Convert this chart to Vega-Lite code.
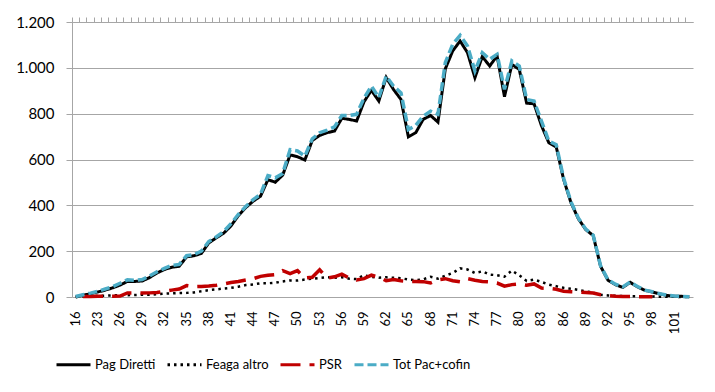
{
  "$schema": "https://vega.github.io/schema/vega-lite/v6.json",
  "autosize": {"type": "none"},
  "padding": {"left": 72, "top": 22, "right": 22, "bottom": 95},
  "width": 621,
  "height": 275,
  "background": "white",
  "config": {"view": {"stroke": null}},
  "data": {"values": [
    {"age":16,"Pag Diretti":0,"Feaga altro":0,"Tot Pac+cofin":2},
    {"age":19,"Pag Diretti":8,"Feaga altro":2,"PSR":2,"Tot Pac+cofin":10},
    {"age":21,"Pag Diretti":14,"Feaga altro":3,"PSR":2,"Tot Pac+cofin":17},
    {"age":23,"Pag Diretti":22,"Feaga altro":5,"PSR":3,"Tot Pac+cofin":25},
    {"age":24,"Pag Diretti":30,"Feaga altro":6,"PSR":3,"Tot Pac+cofin":35},
    {"age":25,"Pag Diretti":40,"Feaga altro":7,"PSR":3,"Tot Pac+cofin":45},
    {"age":26,"Pag Diretti":52,"Feaga altro":8,"PSR":4,"Tot Pac+cofin":60},
    {"age":27,"Pag Diretti":68,"Feaga altro":8,"PSR":18,"Tot Pac+cofin":75},
    {"age":28,"Pag Diretti":68,"Feaga altro":9,"PSR":18,"Tot Pac+cofin":73},
    {"age":29,"Pag Diretti":70,"Feaga altro":10,"PSR":17,"Tot Pac+cofin":76},
    {"age":30,"Pag Diretti":85,"Feaga altro":10,"PSR":18,"Tot Pac+cofin":92},
    {"age":31,"Pag Diretti":105,"Feaga altro":12,"PSR":20,"Tot Pac+cofin":110},
    {"age":32,"Pag Diretti":120,"Feaga altro":15,"PSR":25,"Tot Pac+cofin":125},
    {"age":33,"Pag Diretti":130,"Feaga altro":16,"PSR":30,"Tot Pac+cofin":138},
    {"age":34,"Pag Diretti":134,"Feaga altro":17,"PSR":35,"Tot Pac+cofin":142},
    {"age":35,"Pag Diretti":175,"Feaga altro":18,"PSR":50,"Tot Pac+cofin":180},
    {"age":36,"Pag Diretti":180,"Feaga altro":20,"PSR":45,"Tot Pac+cofin":185},
    {"age":37,"Pag Diretti":190,"Feaga altro":25,"PSR":46,"Tot Pac+cofin":200},
    {"age":38,"Pag Diretti":236,"Feaga altro":30,"PSR":48,"Tot Pac+cofin":242},
    {"age":39,"Pag Diretti":258,"Feaga altro":33,"PSR":51,"Tot Pac+cofin":262},
    {"age":40,"Pag Diretti":278,"Feaga altro":37,"PSR":57,"Tot Pac+cofin":285},
    {"age":41,"Pag Diretti":310,"Feaga altro":40,"PSR":63,"Tot Pac+cofin":320},
    {"age":42,"Pag Diretti":355,"Feaga altro":45,"PSR":68,"Tot Pac+cofin":360},
    {"age":43,"Pag Diretti":390,"Feaga altro":52,"PSR":74,"Tot Pac+cofin":395},
    {"age":44,"Pag Diretti":418,"Feaga altro":55,"PSR":80,"Tot Pac+cofin":425},
    {"age":45,"Pag Diretti":440,"Feaga altro":60,"PSR":90,"Tot Pac+cofin":448},
    {"age":46,"Pag Diretti":512,"Feaga altro":60,"PSR":95,"Tot Pac+cofin":530},
    {"age":47,"Pag Diretti":501,"Feaga altro":62,"PSR":98,"Tot Pac+cofin":520},
    {"age":48,"Pag Diretti":532,"Feaga altro":68,"PSR":115,"Tot Pac+cofin":539},
    {"age":49,"Pag Diretti":620,"Feaga altro":72,"PSR":102,"Tot Pac+cofin":643},
    {"age":50,"Pag Diretti":612,"Feaga altro":72,"PSR":115,"Tot Pac+cofin":637},
    {"age":51,"Pag Diretti":598,"Feaga altro":76,"PSR":83,"Tot Pac+cofin":615},
    {"age":52,"Pag Diretti":683,"Feaga altro":80,"PSR":86,"Tot Pac+cofin":690},
    {"age":53,"Pag Diretti":705,"Feaga altro":83,"PSR":119,"Tot Pac+cofin":717},
    {"age":54,"Pag Diretti":717,"Feaga altro":86,"PSR":83,"Tot Pac+cofin":728},
    {"age":55,"Pag Diretti":724,"Feaga altro":84,"PSR":88,"Tot Pac+cofin":742},
    {"age":56,"Pag Diretti":780,"Feaga altro":86,"PSR":100,"Tot Pac+cofin":792},
    {"age":57,"Pag Diretti":775,"Feaga altro":80,"PSR":83,"Tot Pac+cofin":792},
    {"age":58,"Pag Diretti":768,"Feaga altro":78,"PSR":74,"Tot Pac+cofin":797},
    {"age":59,"Pag Diretti":852,"Feaga altro":95,"PSR":80,"Tot Pac+cofin":868},
    {"age":60,"Pag Diretti":902,"Feaga altro":88,"PSR":95,"Tot Pac+cofin":920},
    {"age":61,"Pag Diretti":855,"Feaga altro":84,"PSR":86,"Tot Pac+cofin":870},
    {"age":62,"Pag Diretti":958,"Feaga altro":86,"PSR":71,"Tot Pac+cofin":964},
    {"age":63,"Pag Diretti":905,"Feaga altro":84,"PSR":76,"Tot Pac+cofin":920},
    {"age":64,"Pag Diretti":862,"Feaga altro":82,"PSR":71,"Tot Pac+cofin":891},
    {"age":65,"Pag Diretti":699,"Feaga altro":76,"PSR":68,"Tot Pac+cofin":731},
    {"age":66,"Pag Diretti":717,"Feaga altro":74,"PSR":68,"Tot Pac+cofin":749},
    {"age":67,"Pag Diretti":775,"Feaga altro":77,"PSR":67,"Tot Pac+cofin":789},
    {"age":68,"Pag Diretti":792,"Feaga altro":88,"PSR":61,"Tot Pac+cofin":811},
    {"age":69,"Pag Diretti":763,"Feaga altro":80,"PSR":75,"Tot Pac+cofin":797},
    {"age":70,"Pag Diretti":996,"Feaga altro":93,"PSR":80,"Tot Pac+cofin":1023},
    {"age":71,"Pag Diretti":1074,"Feaga altro":105,"PSR":71,"Tot Pac+cofin":1103},
    {"age":72,"Pag Diretti":1117,"Feaga altro":125,"PSR":66,"Tot Pac+cofin":1142},
    {"age":73,"Pag Diretti":1066,"Feaga altro":120,"PSR":80,"Tot Pac+cofin":1095},
    {"age":74,"Pag Diretti":957,"Feaga altro":105,"PSR":73,"Tot Pac+cofin":986},
    {"age":75,"Pag Diretti":1049,"Feaga altro":112,"PSR":68,"Tot Pac+cofin":1066},
    {"age":76,"Pag Diretti":1008,"Feaga altro":98,"PSR":66,"Tot Pac+cofin":1037},
    {"age":77,"Pag Diretti":1052,"Feaga altro":95,"PSR":61,"Tot Pac+cofin":1059},
    {"age":78,"Pag Diretti":874,"Feaga altro":89,"PSR":47,"Tot Pac+cofin":906},
    {"age":79,"Pag Diretti":1015,"Feaga altro":115,"PSR":54,"Tot Pac+cofin":1030},
    {"age":80,"Pag Diretti":993,"Feaga altro":95,"PSR":57,"Tot Pac+cofin":1008},
    {"age":81,"Pag Diretti":846,"Feaga altro":70,"PSR":51,"Tot Pac+cofin":862},
    {"age":82,"Pag Diretti":843,"Feaga altro":76,"PSR":57,"Tot Pac+cofin":855},
    {"age":83,"Pag Diretti":748,"Feaga altro":66,"PSR":39,"Tot Pac+cofin":768},
    {"age":84,"Pag Diretti":673,"Feaga altro":54,"PSR":38,"Tot Pac+cofin":680},
    {"age":85,"Pag Diretti":655,"Feaga altro":47,"PSR":34,"Tot Pac+cofin":665},
    {"age":86,"Pag Diretti":513,"Feaga altro":40,"PSR":25,"Tot Pac+cofin":518},
    {"age":87,"Pag Diretti":411,"Feaga altro":36,"PSR":23,"Tot Pac+cofin":415},
    {"age":88,"Pag Diretti":341,"Feaga altro":31,"PSR":22,"Tot Pac+cofin":344},
    {"age":89,"Pag Diretti":294,"Feaga altro":25,"PSR":20,"Tot Pac+cofin":296},
    {"age":90,"Pag Diretti":268,"Feaga altro":19,"PSR":17,"Tot Pac+cofin":270},
    {"age":91,"Pag Diretti":134,"Feaga altro":10,"PSR":10,"Tot Pac+cofin":136},
    {"age":92,"Pag Diretti":73,"Feaga altro":7,"PSR":6,"Tot Pac+cofin":75},
    {"age":93,"Pag Diretti":54,"Feaga altro":5,"PSR":3,"Tot Pac+cofin":56},
    {"age":94,"Pag Diretti":42,"Feaga altro":4,"PSR":2,"Tot Pac+cofin":44},
    {"age":95,"Pag Diretti":64,"Feaga altro":3,"PSR":2,"Tot Pac+cofin":65},
    {"age":96,"Pag Diretti":44,"Feaga altro":3,"PSR":1,"Tot Pac+cofin":46},
    {"age":97,"Pag Diretti":29,"Feaga altro":2,"PSR":1,"Tot Pac+cofin":30},
    {"age":98,"Pag Diretti":22,"Feaga altro":2,"PSR":1,"Tot Pac+cofin":23},
    {"age":99,"Pag Diretti":13,"Feaga altro":1,"Tot Pac+cofin":14},
    {"age":100,"Pag Diretti":7,"Feaga altro":1,"Tot Pac+cofin":8},
    {"age":101,"Pag Diretti":3,"Feaga altro":1,"Tot Pac+cofin":4},
    {"age":102,"Pag Diretti":3,"Feaga altro":0,"Tot Pac+cofin":3},
    {"age":103,"Pag Diretti":1,"Feaga altro":0,"Tot Pac+cofin":1}
  ]},
  "transform": [
    {"fold": ["Pag Diretti", "Feaga altro", "PSR", "Tot Pac+cofin"], "as": ["series", "value"]}
  ],
  "encoding": {
    "y": {
      "field": "value", "type": "quantitative",
      "scale": {"domain": [0, 1200], "nice": false},
      "axis": {
        "title": null, "values": [0, 200, 400, 600, 800, 1000, 1200],
        "grid": true, "gridColor": "#a6a6a6", "gridWidth": 1,
        "domainColor": "#a6a6a6", "tickColor": "#a6a6a6", "tickSize": 6,
        "labelPadding": 12, "labelFont": "Lato", "labelFontSize": 15, "labelColor": "#000000",
        "labelExpr": "replace(format(datum.value, ','), ',', '.')"
      }
    },
    "color": {
      "field": "series", "type": "nominal",
      "scale": {"domain": ["Pag Diretti", "Feaga altro", "PSR", "Tot Pac+cofin"],
                "range": ["#000000", "#000000", "#c00000", "#4bacc6"]},
      "legend": {
        "orient": "none", "legendX": -17, "legendY": 324, "direction": "horizontal",
        "title": null, "labelFont": "Lato", "labelFontSize": 13, "labelColor": "#000000",
        "symbolSize": 1156, "symbolStrokeWidth": 3, "columnPadding": 5, "labelOffset": 3
      }
    },
    "strokeDash": {
      "field": "series", "type": "nominal",
      "scale": {"domain": ["Pag Diretti", "Feaga altro", "PSR", "Tot Pac+cofin"],
                "range": [[1, 0], [2.5, 4], [20, 9], [9, 4]]},
      "legend": {
        "orient": "none", "legendX": -17, "legendY": 324, "direction": "horizontal",
        "title": null, "labelFont": "Lato", "labelFontSize": 13, "labelColor": "#000000",
        "symbolSize": 1156, "symbolStrokeWidth": 3, "columnPadding": 5, "labelOffset": 3
      }
    }
  },
  "layer": [
    {
      "transform": [{"filter": "datum.series == 'Pag Diretti'"}],
      "mark": {"type": "line", "strokeWidth": 3},
      "encoding": {
        "x": {
          "field": "age", "type": "ordinal",
          "scale": {"type": "band", "paddingInner": 0, "paddingOuter": 0},
          "axis": {
            "title": null, "ticks": false, "domain": false, "grid": false,
            "labelAngle": -90, "labelPadding": 14, "labelFont": "Lato", "labelFontSize": 13,
            "labelColor": "#000000", "labelOverlap": false, "bandPosition": 0.5,
            "labelExpr": "(datum.value == 16 || (datum.value >= 23 && (datum.value - 23) % 3 == 0)) ? datum.label : ''"
          }
        }
      }
    },
    {
      "transform": [{"filter": "datum.series == 'Feaga altro'"}],
      "mark": {"type": "line", "strokeWidth": 2.5},
      "encoding": {
        "x": {
          "field": "age", "type": "ordinal",
          "scale": {"type": "band", "paddingInner": 0, "paddingOuter": 0},
          "axis": {
            "title": null, "labels": false, "ticks": true, "tickSize": 5, "grid": false,
            "tickColor": "#a6a6a6", "domainColor": "#a6a6a6", "bandPosition": 0
          }
        }
      }
    },
    {
      "transform": [{"filter": "datum.series == 'PSR'"}],
      "mark": {"type": "line", "strokeWidth": 3.5},
      "encoding": {
        "x": {"field": "age", "type": "ordinal", "scale": {"type": "band", "paddingInner": 0, "paddingOuter": 0}, "axis": null}
      }
    },
    {
      "transform": [{"filter": "datum.series == 'Tot Pac+cofin'"}],
      "mark": {"type": "line", "strokeWidth": 3.5},
      "encoding": {
        "x": {"field": "age", "type": "ordinal", "scale": {"type": "band", "paddingInner": 0, "paddingOuter": 0}, "axis": null}
      }
    }
  ],
  "resolve": {"axis": {"x": "independent"}}
}
